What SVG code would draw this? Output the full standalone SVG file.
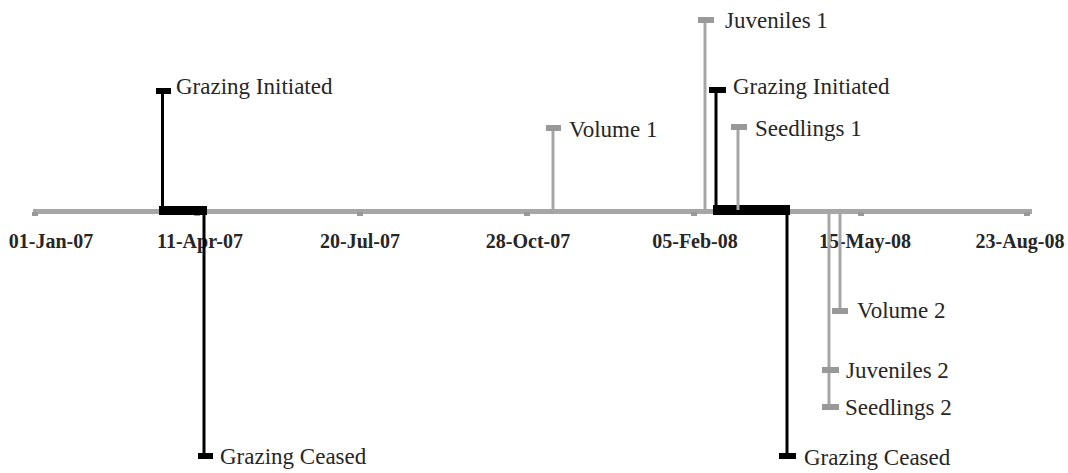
<svg xmlns="http://www.w3.org/2000/svg" width="1068" height="473" viewBox="0 0 1068 473">
<style>
.lbl{font-family:"Liberation Serif","Times New Roman",serif;font-size:23px;fill:#262626}
.ax{font-family:"Liberation Serif","Times New Roman",serif;font-size:20px;font-weight:bold;fill:#262626;text-anchor:middle}
.g{stroke:#a6a6a6;stroke-width:3;fill:none}
.k{stroke:#000;stroke-width:3;fill:none}
.gc{fill:#999}
.kc{fill:#000}
.tk{fill:#999}
</style>
<rect width="1068" height="473" fill="#fff"/>
<g id="axis">
<rect x="33" y="209" width="999" height="5" fill="#a6a6a6"/>
<rect class="tk" x="32" y="212" width="6" height="4"/>
<rect class="tk" x="194" y="212" width="6" height="4"/>
<rect class="tk" x="357" y="212" width="6" height="4"/>
<rect class="tk" x="524" y="212" width="6" height="4"/>
<rect class="tk" x="691" y="212" width="6" height="4"/>
<rect class="tk" x="858" y="212" width="6" height="4"/>
<rect class="tk" x="1024" y="212" width="6" height="4"/>
<text class="ax" x="51" y="248">01-Jan-07</text>
<text class="ax" x="200" y="248">11-Apr-07</text>
<text class="ax" x="360" y="248">20-Jul-07</text>
<text class="ax" x="528" y="248">28-Oct-07</text>
<text class="ax" x="695" y="248">05-Feb-08</text>
<text class="ax" x="865" y="248">15-May-08</text>
<text class="ax" x="1020" y="248">23-Aug-08</text>
</g>
<g id="connectors">
<rect x="159" y="206" width="48" height="9" fill="#000"/>
<rect x="713" y="205" width="77" height="10" fill="#000"/>
<line class="k" x1="162.5" y1="90" x2="162.5" y2="210"/>
<line class="k" x1="204" y1="210" x2="204" y2="456"/>
<line class="g" x1="553" y1="128" x2="553" y2="210"/>
<line class="g" x1="705" y1="20" x2="705" y2="210"/>
<line class="k" x1="716" y1="90" x2="716" y2="210"/>
<line class="g" x1="738" y1="126" x2="738" y2="210"/>
<line class="k" x1="787" y1="210" x2="787" y2="456"/>
<line class="g" x1="829" y1="213" x2="829" y2="407"/>
<line class="g" x1="840" y1="213" x2="840" y2="310"/>
</g>
<g id="grazing-initiated-1">
<rect class="kc" x="156" y="88" width="15" height="6"/>
<text class="lbl" x="176" y="94">Grazing Initiated</text>
</g>
<g id="grazing-ceased-1">
<rect class="kc" x="198" y="453" width="15" height="6"/>
<text class="lbl" x="220" y="464">Grazing Ceased</text>
</g>
<g id="volume-1">
<rect class="gc" x="546" y="125" width="15" height="6"/>
<text class="lbl" x="569" y="137">Volume 1</text>
</g>
<g id="juveniles-1">
<rect class="gc" x="698" y="17" width="16" height="6"/>
<text class="lbl" x="725" y="28">Juveniles 1</text>
</g>
<g id="grazing-initiated-2">
<rect class="kc" x="709" y="87" width="17" height="6"/>
<text class="lbl" x="733" y="94">Grazing Initiated</text>
</g>
<g id="seedlings-1">
<rect class="gc" x="731" y="124" width="16" height="6"/>
<text class="lbl" x="755" y="136">Seedlings 1</text>
</g>
<g id="grazing-ceased-2">
<rect class="kc" x="779" y="453" width="17" height="6"/>
<text class="lbl" x="804" y="465">Grazing Ceased</text>
</g>
<g id="volume-2">
<rect class="gc" x="832" y="308" width="16" height="6"/>
<text class="lbl" x="857" y="318">Volume 2</text>
</g>
<g id="juveniles-2">
<rect class="gc" x="822" y="367" width="17" height="6"/>
<text class="lbl" x="846" y="378">Juveniles 2</text>
</g>
<g id="seedlings-2">
<rect class="gc" x="822" y="404" width="17" height="6"/>
<text class="lbl" x="845" y="415">Seedlings 2</text>
</g>
</svg>
